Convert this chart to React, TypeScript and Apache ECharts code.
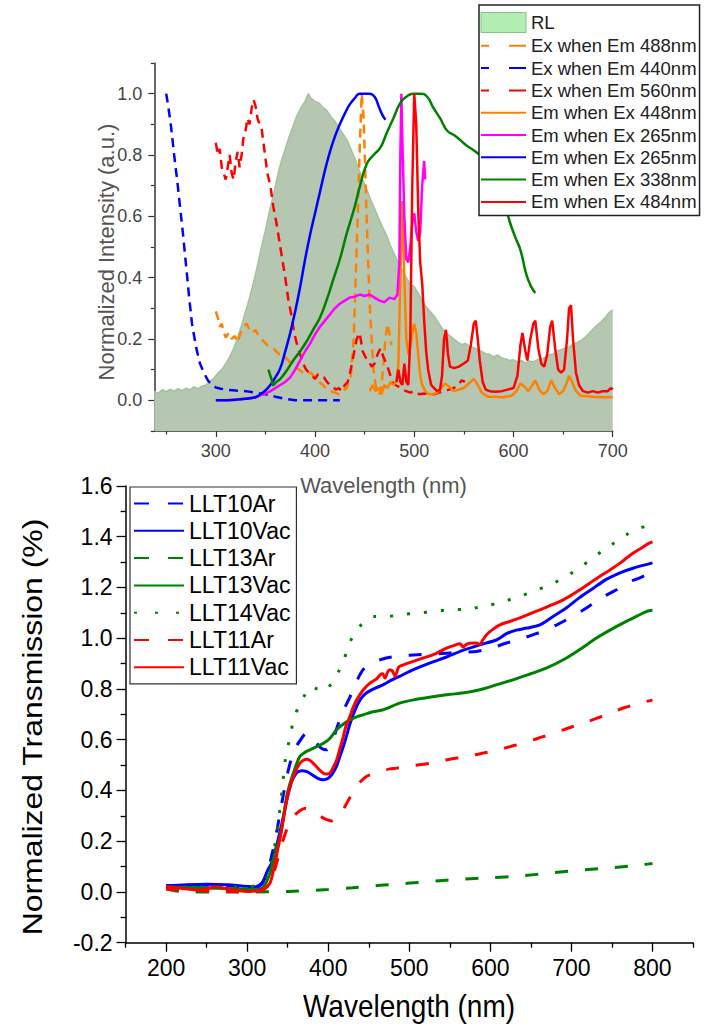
import React, { useEffect, useRef } from "react";
import * as echarts from "echarts";

const FONT = '"Liberation Sans", Arial, Helvetica, sans-serif';

// ---------- Top panel: [wavelength (nm), normalized intensity] ----------
const rlData = [
  [238, 0.03], [242, 0.022], [246, 0.035], [250, 0.028], [254, 0.036], [258, 0.03], [262, 0.038], [266, 0.032],
  [270, 0.04], [274, 0.034], [278, 0.044], [282, 0.038], [286, 0.046], [290, 0.05], [294, 0.062], [298, 0.072],
  [302, 0.088], [306, 0.1], [310, 0.12], [314, 0.142], [318, 0.17], [322, 0.205], [326, 0.245], [330, 0.29],
  [334, 0.335], [338, 0.385], [342, 0.44], [346, 0.5], [350, 0.555], [354, 0.615], [358, 0.67], [362, 0.73],
  [366, 0.78], [370, 0.82], [374, 0.86], [378, 0.895], [382, 0.93], [386, 0.955], [390, 0.975], [393, 1.0],
  [396, 0.985], [400, 0.975], [404, 0.97], [408, 0.955], [412, 0.945], [416, 0.925], [420, 0.91], [424, 0.89],
  [428, 0.87], [432, 0.85], [436, 0.82], [440, 0.79], [444, 0.755], [448, 0.72], [452, 0.69], [456, 0.655],
  [460, 0.625], [464, 0.595], [468, 0.565], [472, 0.54], [476, 0.505], [480, 0.475], [484, 0.45], [488, 0.425],
  [492, 0.4], [496, 0.38], [500, 0.37], [504, 0.35], [508, 0.325], [512, 0.305], [516, 0.29], [520, 0.275],
  [524, 0.255], [528, 0.235], [532, 0.22], [536, 0.21], [540, 0.2], [544, 0.19], [548, 0.182], [552, 0.185],
  [556, 0.175], [560, 0.172], [564, 0.165], [568, 0.16], [572, 0.152], [576, 0.15], [580, 0.142], [584, 0.148],
  [588, 0.138], [592, 0.135], [596, 0.13], [600, 0.132], [604, 0.125], [608, 0.13], [612, 0.122], [616, 0.128],
  [620, 0.126], [624, 0.132], [628, 0.135], [632, 0.14], [636, 0.148], [640, 0.152], [644, 0.16], [648, 0.165],
  [652, 0.17], [656, 0.175], [660, 0.182], [664, 0.188], [668, 0.195], [672, 0.205], [676, 0.218], [680, 0.232],
  [684, 0.245], [688, 0.255], [692, 0.268], [696, 0.285], [700, 0.295],
];

const ex488 = [
  [300, 0.29], [302, 0.27], [304, 0.24], [306, 0.25], [308, 0.22], [310, 0.205], [313, 0.22], [316, 0.2],
  [319, 0.21], [322, 0.19], [325, 0.22], [328, 0.24], [331, 0.25], [334, 0.23], [337, 0.22], [340, 0.23],
  [343, 0.21], [346, 0.2], [349, 0.19], [352, 0.18], [355, 0.175], [358, 0.17], [361, 0.16], [364, 0.15],
  [367, 0.15], [370, 0.14], [373, 0.13], [376, 0.12], [380, 0.11], [384, 0.1], [388, 0.09], [392, 0.085],
  [396, 0.09], [400, 0.075], [404, 0.06], [408, 0.05], [412, 0.035], [416, 0.03], [420, 0.025], [424, 0.02],
  [428, 0.03], [432, 0.04], [436, 0.08], [439, 0.2], [441, 0.4], [443, 0.6], [445, 0.82], [447, 1.0],
  [449, 0.92], [451, 0.7], [453, 0.5], [455, 0.32], [457, 0.2], [459, 0.1], [461, 0.05], [463, 0.03],
  [465, 0.02], [467, 0.05], [469, 0.12], [471, 0.2], [473, 0.25], [475, 0.22], [477, 0.18],
];

const ex440 = [
  [250, 1.0], [252, 0.96], [255, 0.89], [258, 0.8], [261, 0.72], [264, 0.63], [267, 0.54], [270, 0.44],
  [273, 0.34], [276, 0.25], [280, 0.175], [284, 0.12], [288, 0.09], [292, 0.065], [296, 0.05], [300, 0.042],
  [305, 0.038], [310, 0.035], [320, 0.032], [330, 0.03], [340, 0.025], [350, 0.02], [360, 0.012], [370, 0.005],
  [380, 0.0], [400, 0.0], [425, 0.0],
];

const ex560 = [
  [300, 0.84], [302, 0.8], [304, 0.82], [306, 0.76], [308, 0.74], [310, 0.72], [312, 0.76], [314, 0.8],
  [316, 0.74], [318, 0.72], [320, 0.78], [322, 0.81], [324, 0.76], [326, 0.8], [328, 0.86], [330, 0.88],
  [332, 0.92], [334, 0.9], [336, 0.95], [338, 0.98], [340, 0.96], [342, 0.92], [344, 0.9], [346, 0.89],
  [348, 0.84], [350, 0.79], [352, 0.74], [355, 0.7], [358, 0.63], [361, 0.58], [364, 0.52], [367, 0.46],
  [370, 0.4], [373, 0.33], [376, 0.28], [379, 0.22], [382, 0.18], [385, 0.15], [388, 0.12], [391, 0.1],
  [394, 0.09], [397, 0.08], [400, 0.07], [403, 0.085], [406, 0.08], [409, 0.075], [412, 0.06], [415, 0.05],
  [418, 0.045], [421, 0.035], [424, 0.04], [427, 0.03], [430, 0.05], [433, 0.06], [436, 0.1], [439, 0.15],
  [442, 0.2], [445, 0.22], [448, 0.16], [451, 0.14], [454, 0.13], [457, 0.11], [460, 0.12], [463, 0.15],
  [466, 0.17], [469, 0.14], [472, 0.12], [475, 0.09], [478, 0.06], [481, 0.05], [484, 0.045], [488, 0.035],
  [492, 0.03], [496, 0.025], [500, 0.03], [505, 0.02], [510, 0.022], [515, 0.02], [520, 0.02], [525, 0.025],
  [530, 0.03], [535, 0.035], [540, 0.04], [545, 0.055], [548, 0.065], [551, 0.06],
];

const em448 = [
  [455, 0.03], [458, 0.05], [461, 0.03], [464, 0.04], [467, 0.02], [470, 0.05], [473, 0.04], [476, 0.06],
  [479, 0.05], [482, 0.06], [484, 0.12], [486, 0.4], [488, 0.65], [490, 0.4], [492, 0.2], [494, 0.15],
  [496, 0.17], [498, 0.22], [500, 0.25], [502, 0.22], [504, 0.15], [506, 0.08], [508, 0.05], [511, 0.03],
  [515, 0.02], [519, 0.02], [523, 0.025], [527, 0.04], [531, 0.055], [535, 0.045], [540, 0.03], [545, 0.035],
  [550, 0.04], [555, 0.055], [560, 0.07], [564, 0.05], [568, 0.025], [574, 0.012], [580, 0.012], [590, 0.01],
  [598, 0.015], [603, 0.03], [607, 0.055], [611, 0.045], [615, 0.03], [619, 0.05], [622, 0.065], [626, 0.035],
  [630, 0.02], [634, 0.03], [638, 0.065], [642, 0.04], [646, 0.02], [650, 0.03], [654, 0.06], [656, 0.08],
  [659, 0.06], [663, 0.03], [668, 0.015], [680, 0.012], [690, 0.01], [700, 0.01],
];

const em265m = [
  [300, 0.0], [310, 0.0], [320, 0.003], [330, 0.006], [340, 0.01], [345, 0.016], [350, 0.022], [355, 0.03],
  [360, 0.04], [365, 0.05], [370, 0.06], [375, 0.075], [380, 0.1], [385, 0.13], [390, 0.16], [395, 0.185],
  [400, 0.215], [405, 0.24], [410, 0.26], [415, 0.28], [420, 0.3], [425, 0.315], [430, 0.325], [435, 0.335],
  [440, 0.338], [445, 0.345], [450, 0.34], [455, 0.345], [460, 0.335], [465, 0.325], [470, 0.32], [475, 0.335],
  [480, 0.33], [483, 0.345], [485, 0.45], [486, 0.8], [487, 1.0], [488, 0.85], [490, 0.6], [492, 0.46],
  [494, 0.45], [496, 0.5], [498, 0.58], [500, 0.61], [502, 0.55], [504, 0.52], [506, 0.55], [508, 0.7],
  [510, 0.78], [511, 0.72],
];

const em265b = [
  [300, 0.0], [310, 0.0], [320, 0.002], [330, 0.005], [340, 0.01], [345, 0.02], [350, 0.032], [355, 0.05],
  [360, 0.075], [365, 0.105], [370, 0.16], [375, 0.22], [380, 0.29], [385, 0.37], [390, 0.46], [395, 0.54],
  [400, 0.61], [405, 0.68], [410, 0.75], [415, 0.81], [420, 0.86], [425, 0.9], [430, 0.935], [435, 0.965],
  [440, 0.985], [445, 1.0], [455, 1.0], [460, 0.99], [464, 0.96], [468, 0.93], [471, 0.915],
];

const em338 = [
  [353, 0.1], [356, 0.07], [358, 0.05], [361, 0.06], [365, 0.07], [372, 0.1], [378, 0.13], [385, 0.16],
  [392, 0.195], [398, 0.23], [405, 0.27], [412, 0.33], [418, 0.39], [425, 0.46], [432, 0.545], [439, 0.62],
  [445, 0.695], [452, 0.77], [459, 0.8], [466, 0.825], [472, 0.87], [479, 0.92], [486, 0.97], [492, 0.99],
  [499, 1.0], [506, 1.0], [513, 0.99], [519, 0.955], [526, 0.92], [533, 0.88], [540, 0.865], [546, 0.85],
  [553, 0.83], [560, 0.815], [566, 0.8], [575, 0.77], [585, 0.7], [592, 0.63], [597, 0.575], [602, 0.53],
  [607, 0.49], [613, 0.41], [618, 0.37], [622, 0.35],
];

const em484 = [
  [482, 0.06], [484, 0.1], [486, 0.06], [488, 0.05], [490, 0.12], [492, 0.06], [494, 0.05], [496, 0.2],
  [498, 0.7], [500, 1.0], [502, 0.9], [504, 0.62], [506, 0.45], [508, 0.38], [510, 0.26], [512, 0.16],
  [514, 0.1], [517, 0.05], [520, 0.04], [523, 0.03], [526, 0.035], [528, 0.08], [530, 0.2], [532, 0.23],
  [534, 0.15], [536, 0.11], [540, 0.105], [545, 0.11], [550, 0.12], [554, 0.13], [557, 0.18], [560, 0.25],
  [562, 0.26], [564, 0.2], [566, 0.13], [569, 0.06], [572, 0.035], [576, 0.03], [582, 0.028], [588, 0.03],
  [594, 0.035], [600, 0.04], [604, 0.08], [607, 0.18], [609, 0.22], [612, 0.16], [614, 0.13], [617, 0.2],
  [620, 0.25], [622, 0.26], [625, 0.17], [628, 0.12], [631, 0.11], [634, 0.15], [637, 0.24], [639, 0.26],
  [642, 0.17], [645, 0.1], [648, 0.09], [651, 0.1], [654, 0.2], [656, 0.3], [658, 0.31], [660, 0.2],
  [663, 0.09], [666, 0.05], [670, 0.03], [675, 0.025], [680, 0.03], [685, 0.025], [690, 0.03], [695, 0.03],
  [698, 0.04], [700, 0.035],
];

// ---------- Bottom panel: [wavelength (nm), normalized transmission] ----------
const llt10Ar = [
  [200, 0.025], [225, 0.026], [250, 0.027], [275, 0.024], [300, 0.02], [310, 0.02], [318, 0.035], [324, 0.07],
  [330, 0.14], [336, 0.23], [341, 0.32], [345, 0.39], [350, 0.47], [355, 0.53], [360, 0.57], [366, 0.6],
  [373, 0.625], [380, 0.61], [386, 0.585], [392, 0.565], [398, 0.56], [404, 0.58], [410, 0.64], [418, 0.71],
  [427, 0.77], [435, 0.83], [443, 0.876], [452, 0.9], [464, 0.915], [476, 0.925], [490, 0.93], [510, 0.935],
  [530, 0.938], [550, 0.942], [570, 0.945], [583, 0.948], [600, 0.96], [620, 0.981], [640, 1.0], [653, 1.014],
  [668, 1.032], [682, 1.053], [698, 1.08], [715, 1.112], [728, 1.14], [740, 1.165], [755, 1.19], [768, 1.218],
  [782, 1.235], [793, 1.25], [800, 1.255],
];

const llt10Vac = [
  [200, 0.024], [225, 0.028], [250, 0.03], [275, 0.028], [300, 0.022], [312, 0.02], [318, 0.03], [322, 0.06],
  [326, 0.09], [330, 0.113], [336, 0.18], [342, 0.258], [349, 0.363], [355, 0.435], [361, 0.47], [367, 0.478],
  [373, 0.475], [380, 0.462], [387, 0.448], [394, 0.442], [400, 0.448], [405, 0.465], [410, 0.494], [414, 0.53],
  [418.6, 0.573], [423, 0.62], [427, 0.665], [435, 0.731], [441, 0.765], [447, 0.784], [458, 0.803], [468, 0.817],
  [478, 0.835], [488, 0.85], [505, 0.876], [525, 0.902], [546, 0.926], [566, 0.952], [587, 0.974], [608, 0.994],
  [620, 1.018], [632, 1.032], [645, 1.04], [661, 1.053], [677, 1.085], [694, 1.12], [710, 1.16], [727, 1.197],
  [743, 1.232], [760, 1.258], [776, 1.276], [800, 1.297],
];

const llt13Ar = [
  [200, 0.012], [215, 0.003], [230, 0.0], [260, 0.0], [300, 0.0], [350, 0.002], [400, 0.01], [430, 0.017],
  [468, 0.027], [480, 0.03], [521, 0.04], [562, 0.05], [600, 0.056], [636, 0.063], [678, 0.076], [715, 0.087],
  [752, 0.096], [789, 0.108], [800, 0.112],
];

const llt13Vac = [
  [200, 0.02], [230, 0.018], [260, 0.015], [290, 0.012], [310, 0.01], [320, 0.02], [328, 0.074], [334, 0.15],
  [340.5, 0.218], [345, 0.3], [348.7, 0.376], [353, 0.43], [357, 0.468], [361, 0.505], [365, 0.534], [371, 0.55],
  [377.5, 0.56], [385, 0.572], [394, 0.586], [402, 0.605], [410.4, 0.64], [418, 0.66], [426.8, 0.678], [435, 0.69],
  [443, 0.698], [455, 0.71], [468, 0.718], [488, 0.744], [505, 0.757], [525, 0.767], [546, 0.777], [570, 0.786],
  [587, 0.797], [608, 0.817], [628, 0.836], [649, 0.859], [669, 0.882], [690, 0.915], [710, 0.955], [731, 1.001],
  [752, 1.04], [772, 1.073], [793, 1.106], [800, 1.11],
];

const llt14Vac = [
  [200, 0.02], [250, 0.02], [300, 0.02], [315, 0.03], [325, 0.06], [330, 0.12], [335, 0.2], [339, 0.29],
  [343, 0.4], [347, 0.52], [352, 0.6], [357, 0.672], [365, 0.744], [372, 0.78], [379.6, 0.81], [386, 0.8],
  [393.9, 0.79], [401, 0.81], [408, 0.836], [413, 0.87], [418.6, 0.908], [426.8, 0.985], [433, 1.02], [439, 1.047],
  [447, 1.07], [455.6, 1.086], [474, 1.086], [488.5, 1.093], [511, 1.099], [531.7, 1.106], [550, 1.112],
  [570.8, 1.115], [595.5, 1.128], [616, 1.145], [636.5, 1.165], [653, 1.185], [673.6, 1.211], [690, 1.237],
  [706.5, 1.27], [720.8, 1.303], [737.3, 1.342], [751.6, 1.373], [768, 1.408], [780.5, 1.428], [800, 1.452],
];

const llt11Ar = [
  [200, 0.012], [230, 0.006], [260, 0.004], [300, 0.0], [320, 0.01], [330, 0.05], [336, 0.11], [342, 0.18],
  [347, 0.23], [352, 0.27], [358, 0.3], [365, 0.32], [372, 0.33], [378, 0.325], [385, 0.31], [392, 0.295],
  [398, 0.285], [404, 0.28], [410, 0.29], [416, 0.31], [422, 0.345], [428, 0.38], [434, 0.41], [440, 0.435],
  [447, 0.455], [455, 0.465], [465, 0.475], [476, 0.485], [484, 0.488], [500, 0.496], [525.5, 0.507], [545, 0.52],
  [562.5, 0.53], [580, 0.54], [595, 0.55], [612, 0.562], [628, 0.576], [644, 0.59], [659, 0.606], [675, 0.622],
  [690, 0.639], [703, 0.653], [717, 0.668], [730, 0.683], [743, 0.698], [754, 0.712], [764, 0.725], [780, 0.74],
  [793, 0.751], [800, 0.756],
];

const llt11Vac = [
  [200, 0.021], [210, 0.018], [221, 0.014], [232, 0.01], [242, 0.008], [252, 0.014], [262, 0.021], [272, 0.014],
  [283, 0.008], [293, 0.004], [303.5, 0.002], [312, 0.004], [320, 0.008], [328, 0.034], [332, 0.08], [336, 0.14],
  [342.5, 0.245], [348.7, 0.363], [353, 0.42], [357, 0.455], [361, 0.485], [365, 0.507], [369, 0.518], [373.4, 0.523],
  [377.5, 0.518], [381.6, 0.507], [388, 0.485], [394, 0.468], [398, 0.465], [402, 0.468], [406, 0.49], [410.4, 0.52],
  [414, 0.56], [418.6, 0.613], [422, 0.655], [426.8, 0.692], [431, 0.73], [435, 0.757], [443.3, 0.797], [451.5, 0.823],
  [459.7, 0.84], [464, 0.856], [467, 0.86], [470, 0.843], [473, 0.865], [476, 0.876], [479, 0.872], [482.5, 0.85],
  [486.5, 0.885], [490, 0.892], [505, 0.909], [517, 0.922], [529.6, 0.935], [538, 0.948], [546, 0.961], [554, 0.97],
  [562.5, 0.978], [566.7, 0.965], [570, 0.975], [575, 0.98], [583, 0.981], [587, 0.974], [590, 0.99], [595.4, 1.014],
  [603, 1.035], [611.8, 1.053], [624, 1.066], [636.5, 1.08], [648, 1.095], [661.2, 1.112], [673, 1.128], [685.9, 1.145],
  [698, 1.166], [710.5, 1.191], [723, 1.218], [735.2, 1.244], [748, 1.27], [759.9, 1.296], [768, 1.316], [776.3, 1.336],
  [786, 1.355], [794.8, 1.373], [800, 1.38],
];

// ---------- Axis tick values ----------
const topXMajor = [300, 400, 500, 600, 700];
const topXMinor = [250, 350, 450, 550, 650];
const topYMajor = [0, 0.2, 0.4, 0.6, 0.8, 1.0];
const topYMinor = [-0.1, 0.1, 0.3, 0.5, 0.7, 0.9, 1.1];
const botXMajor = [200, 300, 400, 500, 600, 700, 800];
const botXMinor = [150, 250, 350, 450, 550, 650, 750, 850];

const TOP_DASH = [9, 6];
const BOT_DASH = [13, 17];
const BOT_DOT = [3, 14];
const TOP_LEGEND_DASH = [8, 20, 17, 10];
const BOT_LEGEND_DASH = [15, 19];
const BOT_LEGEND_DOT = [3, 18];

function buildOption() {
  const topAxisColor = "#333";
  const topLabel = { fontSize: 18, color: "#444", fontFamily: FONT };
  const botLabel = { fontSize: 23, color: "#000", fontFamily: FONT };

  const topLine = (name: string, data: number[][], color: string, dash: any, smooth = false) => ({
    type: "line",
    name,
    data,
    xAxisIndex: 0,
    yAxisIndex: 0,
    symbol: "none",
    smooth,
    lineStyle: { color, width: 2.5, type: dash },
    itemStyle: { color },
    emphasis: { disabled: true },
  });
  const botLine = (name: string, data: number[][], color: string, dash: any, width = 3) => ({
    type: "line",
    name,
    data,
    xAxisIndex: 2,
    yAxisIndex: 2,
    symbol: "none",
    smooth: 0.3,
    lineStyle: { color, width, type: dash },
    itemStyle: { color },
    emphasis: { disabled: true },
  });

  return {
    animation: false,
    backgroundColor: "#fff",
    textStyle: { fontFamily: FONT },
    grid: [
      { left: 154.3, top: 63, width: 458.4, height: 368 },
      { left: 125.6, top: 486, width: 567.4, height: 456.7 },
    ],
    xAxis: [
      {
        gridIndex: 0, type: "value", min: 238, max: 700, position: "bottom",
        axisLine: { show: true, onZero: false, lineStyle: { color: topAxisColor, width: 1.5 } },
        axisTick: { show: true, customValues: topXMajor, length: 6, lineStyle: { color: topAxisColor, width: 1.2 } },
        axisLabel: { ...topLabel, customValues: topXMajor, margin: 11 },
        splitLine: { show: false },
      },
      {
        gridIndex: 0, type: "value", min: 238, max: 700, position: "bottom",
        axisLine: { show: false, onZero: false },
        axisTick: { show: true, customValues: topXMinor, length: 3.5, lineStyle: { color: topAxisColor, width: 1.2 } },
        axisLabel: { show: false },
        splitLine: { show: false },
      },
      {
        gridIndex: 1, type: "value", min: 150, max: 850, position: "bottom",
        axisLine: { show: true, onZero: false, lineStyle: { color: "#000", width: 1.5 } },
        axisTick: { show: true, customValues: botXMajor, length: 9, lineStyle: { color: "#000", width: 1.3 } },
        axisLabel: { ...botLabel, customValues: botXMajor, margin: 14 },
        splitLine: { show: false },
      },
      {
        gridIndex: 1, type: "value", min: 150, max: 850, position: "bottom",
        axisLine: { show: false, onZero: false },
        axisTick: { show: true, customValues: botXMinor, length: 5, lineStyle: { color: "#000", width: 1.3 } },
        axisLabel: { show: false },
        splitLine: { show: false },
      },
    ],
    yAxis: [
      {
        gridIndex: 0, type: "value", min: -0.1, max: 1.1, position: "left",
        axisLine: { show: true, onZero: false, lineStyle: { color: topAxisColor, width: 1.5 } },
        axisTick: { show: true, customValues: topYMajor, length: 6, lineStyle: { color: topAxisColor, width: 1.2 } },
        axisLabel: { ...topLabel, customValues: topYMajor, margin: 12, formatter: (v: number) => v.toFixed(1) },
        splitLine: { show: false },
      },
      {
        gridIndex: 0, type: "value", min: -0.1, max: 1.1, position: "left",
        axisLine: { show: false, onZero: false },
        axisTick: { show: true, customValues: topYMinor, length: 3.5, lineStyle: { color: topAxisColor, width: 1.2 } },
        axisLabel: { show: false },
        splitLine: { show: false },
      },
      {
        gridIndex: 1, type: "value", min: -0.2, max: 1.6, interval: 0.2, position: "left",
        axisLine: { show: true, onZero: false, lineStyle: { color: "#000", width: 1.5 } },
        axisTick: { show: true, length: 9, lineStyle: { color: "#000", width: 1.3 } },
        minorTick: { show: true, splitNumber: 2, length: 5, lineStyle: { color: "#000", width: 1.3 } },
        axisLabel: { ...botLabel, margin: 13, formatter: (v: number) => v.toFixed(1) },
        splitLine: { show: false },
        minorSplitLine: { show: false },
      },
    ],
    legend: [
      {
        orient: "vertical",
        left: 479,
        top: 5,
        padding: [7, 3, 4, 1],
        itemWidth: 45,
        itemHeight: 20,
        itemGap: 3.3,
        backgroundColor: "#fff",
        borderColor: "#222",
        borderWidth: 1.5,
        borderRadius: 0,
        selectedMode: false,
        textStyle: { fontSize: 18.5, color: "#222", fontFamily: FONT },
        itemStyle: { opacity: 0 },
        formatter: (n: string) => n.replace(/#2$/, ""),
        data: [
          { name: "RL", icon: "rect", itemStyle: { color: "#b3efb3", borderColor: "#86c286", borderWidth: 1, opacity: 1 } },
          { name: "Ex when Em 488nm", lineStyle: { type: TOP_LEGEND_DASH } },
          { name: "Ex when Em 440nm", lineStyle: { type: TOP_LEGEND_DASH } },
          { name: "Ex when Em 560nm", lineStyle: { type: TOP_LEGEND_DASH } },
          "Em when Ex 448nm",
          "Em when Ex 265nm",
          "Em when Ex 265nm#2",
          "Em when Ex 338nm",
          "Em when Ex 484nm",
        ],
      },
      {
        orient: "vertical",
        left: 130,
        top: 487,
        padding: [5, 6, 5, 3],
        itemWidth: 50,
        itemHeight: 14,
        itemGap: 4.3,
        backgroundColor: "#fff",
        borderColor: "#333",
        borderWidth: 1.2,
        borderRadius: 0,
        selectedMode: false,
        textStyle: { fontSize: 23, color: "#000", fontFamily: FONT },
        itemStyle: { opacity: 0 },
        data: [
          { name: "LLT10Ar", lineStyle: { type: BOT_LEGEND_DASH } },
          "LLT10Vac",
          { name: "LLT13Ar", lineStyle: { type: BOT_LEGEND_DASH } },
          "LLT13Vac",
          { name: "LLT14Vac", lineStyle: { type: BOT_LEGEND_DOT } },
          { name: "LLT11Ar", lineStyle: { type: BOT_LEGEND_DASH } },
          "LLT11Vac",
        ],
      },
    ],
    graphic: [
      {
        type: "text", x: 106, y: 252, rotation: Math.PI / 2,
        style: { text: "Normalized Intensity (a.u.)", fontSize: 22, fill: "#555", fontFamily: FONT, textAlign: "center", textVerticalAlign: "middle" },
      },
      {
        type: "text", x: 383.5, y: 485,
        style: { text: "Wavelength (nm)", fontSize: 22, fill: "#555", fontFamily: FONT, textAlign: "center", textVerticalAlign: "middle" },
      },
      {
        type: "text", x: 32, y: 727, rotation: Math.PI / 2, scaleX: 1.14,
        style: { text: "Normalized Transmission (%)", fontSize: 28, fill: "#000", fontFamily: FONT, textAlign: "center", textVerticalAlign: "middle" },
      },
      {
        type: "text", x: 409, y: 1006, scaleY: 1.12,
        style: { text: "Wavelength (nm)", fontSize: 28, fill: "#000", fontFamily: FONT, textAlign: "center", textVerticalAlign: "middle" },
      },
    ],
    series: [
      {
        type: "line",
        name: "RL",
        data: rlData,
        xAxisIndex: 0,
        yAxisIndex: 0,
        symbol: "none",
        lineStyle: { color: "#a2c498", width: 1.5 },
        itemStyle: { color: "#b3efb3" },
        areaStyle: { color: "#b5c7b1", opacity: 1, origin: "start" },
        emphasis: { disabled: true },
      },
      topLine("Ex when Em 488nm", ex488, "#ff8000", TOP_DASH),
      topLine("Ex when Em 440nm", ex440, "#0000ff", TOP_DASH),
      topLine("Ex when Em 560nm", ex560, "#ff0000", TOP_DASH),
      topLine("Em when Ex 448nm", em448, "#ff8000", "solid"),
      topLine("Em when Ex 265nm", em265m, "#ff00ff", "solid"),
      topLine("Em when Ex 265nm#2", em265b, "#0000ff", "solid", true),
      topLine("Em when Ex 338nm", em338, "#008000", "solid", true),
      topLine("Em when Ex 484nm", em484, "#ff0000", "solid"),

      botLine("LLT10Ar", llt10Ar, "#0000ff", BOT_DASH),
      botLine("LLT10Vac", llt10Vac, "#0000ff", "solid"),
      botLine("LLT13Ar", llt13Ar, "#008000", BOT_DASH),
      botLine("LLT13Vac", llt13Vac, "#008000", "solid"),
      botLine("LLT14Vac", llt14Vac, "#008000", BOT_DOT),
      botLine("LLT11Ar", llt11Ar, "#ff0000", BOT_DASH),
      botLine("LLT11Vac", llt11Vac, "#ff0000", "solid"),
    ],
  };
}

export default function App() {
  const ref = useRef<HTMLDivElement>(null);
  useEffect(() => {
    if (!ref.current) return;
    const chart = echarts.init(ref.current, null, { renderer: "svg" });
    chart.setOption(buildOption() as any);
    return () => chart.dispose();
  }, []);
  return (
    <div
      ref={ref}
      style={{ position: "absolute", left: 0, top: 0, width: 708, height: 1026, background: "#fff" }}
    />
  );
}
